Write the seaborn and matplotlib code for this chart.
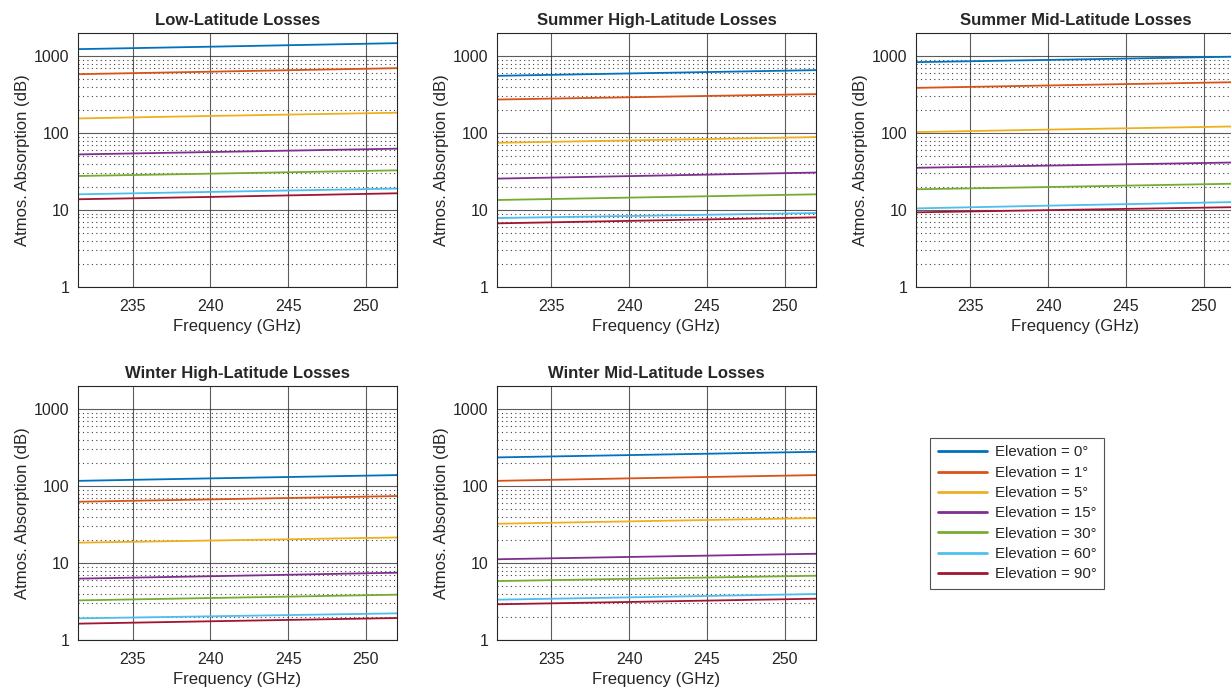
import numpy as np
import pandas as pd
import matplotlib
matplotlib.use("Agg")
import matplotlib.pyplot as plt
import matplotlib.ticker as mticker
from matplotlib.lines import Line2D
import seaborn as sns

# --- data (3 frequency samples per curve) ---
freq = [231.5, 240.0, 252.0]
elevations = ["0°", "1°", "5°", "15°", "30°", "60°", "90°"]
colors = ["#0072BD", "#D95319", "#EDB120", "#7E2F8E", "#77AC30", "#4DBEEE", "#A2142F"]

titles = [
    "Low-Latitude Losses",
    "Summer High-Latitude Losses",
    "Summer Mid-Latitude Losses",
    "Winter High-Latitude Losses",
    "Winter Mid-Latitude Losses",
]

low_lat = [
    [1233, 1327, 1475],
    [583, 628, 698],
    [155, 167, 184],
    [52.8, 56.7, 62.7],
    [27.7, 29.7, 32.8],
    [16.0, 17.2, 19.0],
    [13.8, 14.8, 16.5],
]
summer_high = [
    [555, 596, 658],
    [273, 292, 321],
    [74.8, 80.3, 88.7],
    [25.6, 27.6, 30.7],
    [13.5, 14.5, 16.0],
    [7.87, 8.37, 9.14],
    [6.71, 7.23, 8.03],
]
summer_mid = [
    [836, 893, 985],
    [387, 416, 459],
    [103, 111, 122],
    [35.4, 37.8, 41.5],
    [18.6, 19.9, 22.0],
    [10.5, 11.4, 12.7],
    [9.33, 9.97, 10.9],
]
winter_high = [
    [117, 126, 139],
    [62.6, 67.2, 74.2],
    [18.4, 19.6, 21.5],
    [6.27, 6.74, 7.49],
    [3.27, 3.51, 3.88],
    [1.91, 2.03, 2.22],
    [1.63, 1.75, 1.93],
]
winter_mid = [
    [236, 253, 279],
    [117, 126, 139],
    [32.4, 34.8, 38.4],
    [11.2, 12.0, 13.2],
    [5.83, 6.24, 6.84],
    [3.34, 3.58, 3.96],
    [2.91, 3.12, 3.44],
]
panels = [low_lat, summer_high, summer_mid, winter_high, winter_mid]


def to_frame(panel):
    rows = []
    for elev, vals in zip(elevations, panel):
        for f, v in zip(freq, vals):
            rows.append({"freq": f, "loss": v, "elev": elev})
    return pd.DataFrame(rows)


sns.set_style("white")
plt.rcParams["font.family"] = ["Liberation Sans", "DejaVu Sans"]

fig = plt.figure(figsize=(12.31, 6.93), dpi=100)

# axes placement (figure fractions) mimicking the MATLAB subplot grid
w, h = 0.2591, 0.3665
lefts = [0.0634, 0.4037, 0.7441]
bottoms = [0.5859, 0.0765]
positions = [
    (lefts[0], bottoms[0]), (lefts[1], bottoms[0]), (lefts[2], bottoms[0]),
    (lefts[0], bottoms[1]), (lefts[1], bottoms[1]),
]

for (x0, y0), title, panel in zip(positions, titles, panels):
    ax = fig.add_axes([x0, y0, w, h])
    df = to_frame(panel)
    sns.lineplot(data=df, x="freq", y="loss", hue="elev", hue_order=elevations,
                 palette=colors, linewidth=1.3, legend=False, ax=ax)
    ax.set_yscale("log")
    ax.set_xlim(231.5, 252)
    ax.set_ylim(1, 2000)
    ax.set_xticks([235, 240, 245, 250])
    ax.yaxis.set_major_locator(mticker.FixedLocator([1, 10, 100, 1000]))
    ax.yaxis.set_major_formatter(mticker.FixedFormatter(["1", "10", "100", "1000"]))
    ax.yaxis.set_minor_locator(mticker.LogLocator(base=10, subs=np.arange(2, 10), numticks=20))
    ax.yaxis.set_minor_formatter(mticker.NullFormatter())
    ax.grid(True, which="major", color="#262626", alpha=0.75, linewidth=0.8)
    ax.grid(True, which="minor", axis="y", color="k", linestyle=(0, (1, 3)),
            alpha=0.75, linewidth=0.8)
    ax.tick_params(axis="both", which="both", direction="in", labelsize=11.5,
                   colors="#262626", length=3)
    ax.tick_params(axis="x", which="major", pad=9)
    ax.tick_params(axis="y", which="major", pad=6)
    ax.tick_params(axis="y", which="minor", length=2)
    for s in ax.spines.values():
        s.set_color("#262626")
        s.set_linewidth(0.8)
    ax.set_title(title, fontsize=12, fontweight="bold", pad=6)
    ax.set_xlabel("Frequency (GHz)", fontsize=12, color="#262626", labelpad=3)
    ax.set_ylabel("Atmos. Absorption (dB)", fontsize=12, color="#262626", labelpad=3)

handles = [Line2D([], [], color=c, linewidth=2) for c in colors]
labels = ["Elevation = " + e for e in elevations]
leg = fig.legend(handles, labels, loc="upper left", bbox_to_anchor=(0.7555, 0.368),
                 fontsize=10.8, frameon=True, fancybox=False, handlelength=3.3,
                 labelspacing=0.42, borderpad=0.5, handletextpad=0.5,
                 borderaxespad=0)
leg.get_frame().set_edgecolor("#262626")
leg.get_frame().set_linewidth(0.8)

fig.savefig("out.png", dpi=100)
